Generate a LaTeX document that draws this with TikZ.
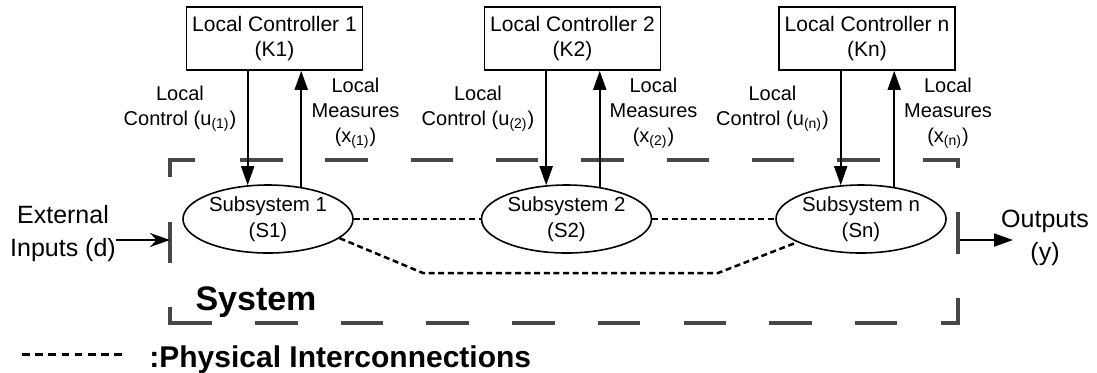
\documentclass[tikz,border=0pt]{standalone}
\usepackage{fontspec}
\setmainfont{Liberation Sans}
\usetikzlibrary{arrows.meta,shapes.geometric}

\tikzset{
  ctrlbox/.style={draw, line width=0.8pt, minimum width=88pt, minimum height=31.5pt,
    align=center, inner sep=1pt, font=\fontsize{10.5}{12.8}\selectfont},
  subsys/.style={draw, ellipse, line width=0.8pt, minimum width=85pt, minimum height=34pt,
    inner sep=0pt, align=center, font=\fontsize{10.2}{13}\selectfont},
  lbl/.style={align=center, inner sep=0pt, font=\fontsize{10}{12.5}\selectfont},
  biglbl/.style={align=center, inner sep=0pt, font=\fontsize{12.5}{16.5}\selectfont},
  sig/.style={line width=0.9pt, -{Triangle[length=9.5pt,width=6.5pt]}},
  phys/.style={line width=1.25pt, dash pattern=on 3pt off 1.8pt},
  sysline/.style={line width=1.6pt, black!72},
}

\begin{document}
\begin{tikzpicture}[x=0.5pt, y=-0.5pt]
  \useasboundingbox (0,0) rectangle (1097,372);

  % system boundary, long dashes
  \draw[sysline] (170,177) |- (195,160);
  \foreach \x in {240,325.3,...,840} \draw[sysline] (\x,160) -- ++(42.5,0);
  \draw[sysline] (923,160) -| (958,168);
  \draw[sysline] (958,212) -- (958,254);
  \draw[sysline] (958,298) |- (941,323);
  \foreach \x in {255,340.7,...,860} \draw[sysline] (\x,323) -- ++(42.5,0);
  \draw[sysline] (212,323) -| (170,307);
  \draw[sysline] (170,222) -- (170,263);

  % controllers and subsystems
  \foreach \i/\kx/\sx in {1/274.5/268, 2/572.5/566.5, n/867/861} {
    \node[ctrlbox] (k\i) at (\kx,38.5) {Local Controller \i\\(K\i)};
    \node[subsys] (s\i) at (\sx,219) {Subsystem \i\\(S\i)};
    \node[lbl] (u\i) at (\kx-94.5,108.5) {Local\\Control (u\textsubscript{(\i)})};
    \node[lbl] (x\i) at (\kx+81,113.5) {Local\\Measures\\(x\textsubscript{(\i)})};
    \draw[sig] (s\i.121 |- k\i.south) -- (s\i.121);
    \draw[sig] (s\i.44) -- (s\i.44 |- k\i.south);
  }

  % physical interconnections
  \coordinate (bendl) at (423,273);
  \coordinate (bendr) at (718,273);
  \draw[phys] (s1.east) -- (s2.west);
  \draw[phys] (s2.east) -- (sn.west);
  \draw[phys] (s1.-15) -- (bendl) -- (bendr) -- (sn.-160);

  % inputs and outputs
  \node[biglbl] (ext) at (63,233.5) {External\\Inputs (d)};
  \node[biglbl] (out) at (1045,237.5) {Outputs\\(y)};
  \coordinate (inbar) at (170,240);
  \coordinate (outbar) at (960,240);
  \coordinate (outend) at (1013,240);
  \draw[line width=0.9pt, -{Stealth[length=10pt,width=7pt]}] (ext.east |- inbar) -- (inbar);
  \draw[sig] (outbar) -- (outend);

  \node[font=\bfseries\fontsize{17}{20}\selectfont, anchor=base] (sys) at (256,310) {System};

  % legend
  \draw[line width=1.5pt, dash pattern=on 3.8pt off 2.8pt] (22,354) -- (122,354);
  \node[font=\bfseries\fontsize{15}{18}\selectfont, anchor=base west, inner sep=0pt] (leg)
    at (149,367) {:Physical Interconnections};
\end{tikzpicture}
\end{document}
